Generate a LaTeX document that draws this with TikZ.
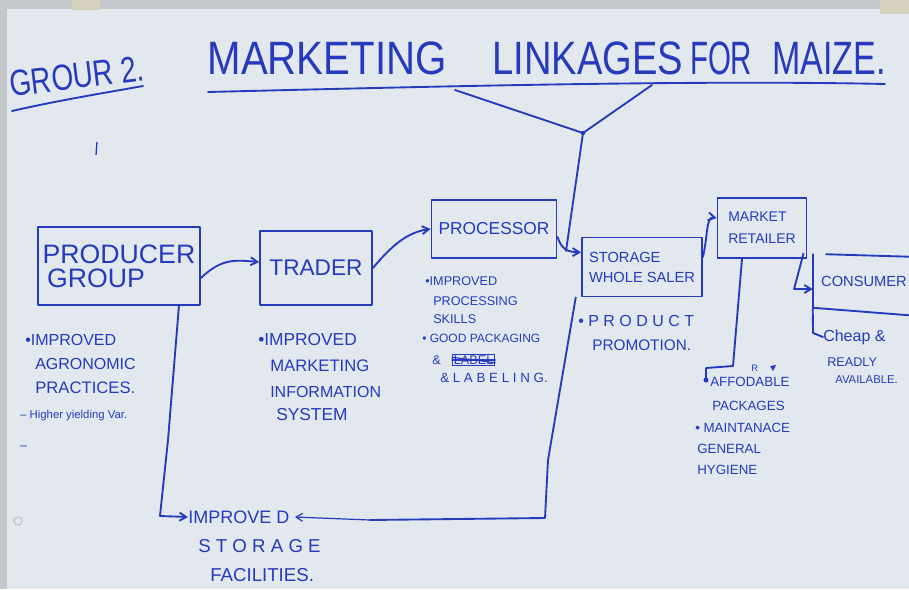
\documentclass[tikz,border=0pt]{standalone}
\usepackage{fontspec}
\setmainfont{Liberation Sans}
\usetikzlibrary{arrows.meta}
\definecolor{ink}{RGB}{38,58,190}
\definecolor{paper}{RGB}{226,232,238}
\definecolor{wall}{RGB}{196,200,202}
\definecolor{tape}{RGB}{214,208,190}
\newcommand{\fs}[1]{\fontsize{#1}{#1}\selectfont}
\begin{document}
\begin{tikzpicture}[x=0.75pt,y=-0.75pt,
  pen/.style={draw=ink, line width=1.4pt, line cap=round, line join=round},
  thinpen/.style={draw=ink, line width=0.9pt, line cap=round, line join=round},
  tip/.style={-{Straight Barb[length=5pt,width=6pt]}},
  stage/.style={pen, text=ink, inner sep=0pt, align=left},
  note/.style={text=ink, anchor=west, inner sep=0pt},
]
% sheet of flipchart paper
\useasboundingbox (0,0) rectangle (909,589);
\fill[paper] (0,0) rectangle (909,589);
\fill[wall] (0,0) rectangle (909,9);
\fill[wall] (0,0) rectangle (7,589);
\fill[tape] (72,0) rectangle (100,10);
\fill[tape] (880,0) rectangle (909,14);
\draw[wall, line width=1pt] (18,521) circle (4);

% headings
\node[text=ink, rotate=7, inner sep=0pt, font=\fs{21}] (group) at (77,76) {\scalebox{1}[1.3]{GROUR 2.}};
\draw[pen] (12,111) .. controls (60,100) and (110,92) .. (143,86);
\node[text=ink, inner sep=0pt, font=\fs{26}] (title) at (546.5,58)
  {\scalebox{1.16}[1.35]{MARKETING}\hspace{34.5pt}\scalebox{1.1}[1.35]{LINKAGES}\hspace{5pt}\scalebox{0.85}[1.35]{FOR}\hspace{15pt}\scalebox{0.98}[1.35]{MAIZE.}};
\draw[pen] (208,92) .. controls (450,86) and (700,80) .. (885,84);
\draw[ink, line width=1pt] (97,142) -- (96,155);

% stages of the chain
\node[stage, minimum width=121.5pt, minimum height=58.5pt, font=\fs{20}] (producer) at (119,266)
  {\baselineskip=27pt PRODUCER\\[-2pt]\,GROUP};
\node[stage, minimum width=84pt, minimum height=55.5pt, font=\fs{17}] (trader) at (316,268) {TRADER};
\node[stage, minimum width=93.75pt, minimum height=43.5pt, font=\fs{13}] (processor) at (494,229) {PROCESSOR};
\node[stage, minimum width=90pt, minimum height=44.25pt, font=\fs{11}] (storage) at (642,267)
  {STORAGE\\[4pt]WHOLE SALER};
\node[stage, minimum width=66.75pt, minimum height=45pt, font=\fs{10.5}] (market) at (762,228)
  {MARKET\\[6pt]RETAILER};
\node[text=ink, inner sep=0pt, minimum width=76.5pt, minimum height=39.75pt, font=\fs{11}] (consumer) at (864,281) {CONSUMER};
\draw[pen] ([xshift=10pt]consumer.north west) -- ([yshift=-2pt]consumer.north east);
\draw[pen] (consumer.north west) -- (consumer.south west);
\draw[pen] (consumer.south west) -- ([yshift=-6pt]consumer.south east);

% notes under each stage
\node[note, font=\fs{12}] (p1) at (25,340) {•IMPROVED};
\node[note, font=\fs{12}] (p2) at (35,364) {AGRONOMIC};
\node[note, font=\fs{12.5}] (p3) at (35,388) {PRACTICES.};
\node[note, font=\fs{8.5}] (p4) at (20,416) {-- Higher yielding Var.};
\node[note, font=\fs{9}] (p5) at (20,448) {--};

\node[note, font=\fs{13}] (t1) at (258,340) {•IMPROVED};
\node[note, font=\fs{12.5}] (t2) at (270,366) {MARKETING};
\node[note, font=\fs{12}] (t3) at (270,392) {INFORMATION};
\node[note, font=\fs{13}] (t4) at (276,415) {SYSTEM};

\node[note, font=\fs{9.5}] (r1) at (425,281) {•IMPROVED};
\node[note, font=\fs{9.5}] (r2) at (433,301) {PROCESSING};
\node[note, font=\fs{9.5}] (r3) at (433,319) {SKILLS};
\node[note, font=\fs{9}] (r4) at (422,338) {• GOOD PACKAGING};
\node[note, font=\fs{9.5}] (r5) at (432,360) {\&};
\node[note, font=\fs{9.5}, draw=ink, thick, inner sep=1pt] (r6) at (452,360) {LABEL};
\draw[thinpen] (r6.west) -- (r6.east);
\draw[thinpen] ([yshift=2pt]r6.west) -- ([yshift=-2pt]r6.east);
\node[note, font=\fs{10}] (r7) at (440,378) {\& L A B E L I N G.};

\node[note, font=\fs{12}] (s1) at (578,321) {• P R O D U C T};
\node[note, font=\fs{11.5}] (s2) at (592,345) {PROMOTION.};

\node[note, font=\fs{10}] (m1) at (710,382) {AFFODABLE};
\node[note, font=\fs{7}] (m1r) at (751,368) {R};
\fill[ink] (770,366) -- (776,365) -- (773,371) -- cycle;
\node[note, font=\fs{10}] (m2) at (712,406) {PACKAGES};
\node[note, font=\fs{10}] (m3) at (695,428) {• MAINTANACE};
\node[note, font=\fs{10}] (m4) at (697,449) {GENERAL};
\node[note, font=\fs{10}] (m5) at (697,470) {HYGIENE};

\node[note, font=\fs{12}] (c1) at (823,337) {Cheap \&};
\node[note, font=\fs{9.5}] (c2) at (827,362) {READLY};
\node[note, font=\fs{8.5}] (c3) at (835,380) {AVAILABLE.};

\node[note, font=\fs{13.5}] (improve) at (188,517) {IMPROVE D};
\node[note, font=\fs{14}] (i2) at (198,546) {S T O R A G E};
\node[note, font=\fs{14}] (i3) at (210,575) {FACILITIES.};

% links along the chain
\draw[pen, tip] ([yshift=-9pt]producer.east) .. controls (222,258) and (235,260) .. ([yshift=4.5pt]trader.west);
\draw[pen, tip] (trader.east) .. controls (392,245) and (408,232) .. (processor.west);
\draw[pen, tip] ([yshift=-6pt]processor.east) .. controls (562,250) and (568,252) .. ([yshift=11pt]storage.west);
\draw[pen, tip] ([yshift=7.5pt]storage.east) .. controls (708,235) and (706,216) .. ([yshift=7.5pt]market.west);
\draw[pen, tip] ([xshift=-3pt,yshift=4pt]market.south east) -- ([xshift=-14pt,yshift=-6pt]consumer.west) -- ([yshift=-6pt]consumer.west);

% title feeding the processor and wholesaler
\coordinate (fork) at (583,133);
\coordinate (join) at (566,251);
\draw[pen] (455,90) -- (fork) -- (652,85);
\draw[pen] (fork) -- (join);
\fill[ink] (fork) circle (2.2);

% links down to the notes
\draw[pen] ([xshift=-16.5pt]producer.south east) -- (168,440) -- (160,516);
\draw[pen, tip] (160,516) -- (improve.west);
\draw[pen] ([xshift=-4pt]storage.south west) -- (548,460) -- (545,518) -- (370,520);
\draw[thinpen, tip] (370,520) -- ([xshift=4pt]improve.east);
\draw[pen] ([xshift=-15pt]market.south) -- (733,366) -- (706,368) -- (706,378);
\fill[ink] (706,380) circle (2.5);
\draw[pen] (consumer.south west) -- (813,333) -- (c1.west);
\end{tikzpicture}
\end{document}
